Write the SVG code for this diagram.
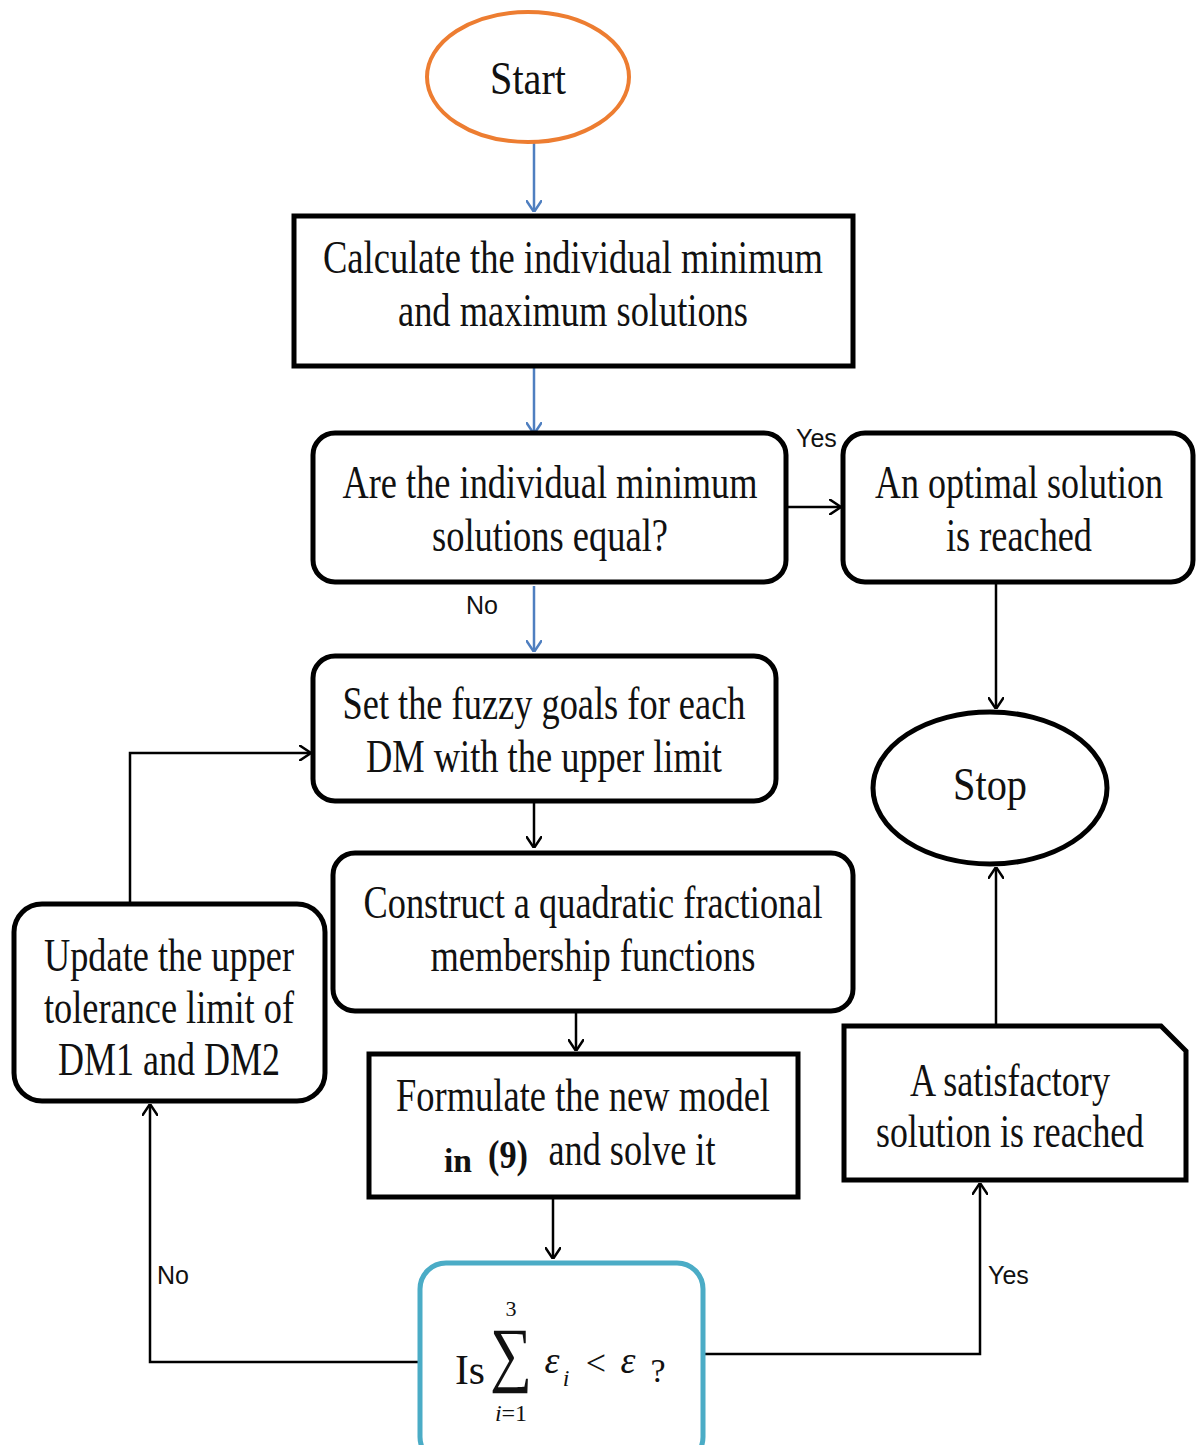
<svg xmlns="http://www.w3.org/2000/svg" width="1203" height="1445" viewBox="0 0 1203 1445">
<defs>
<style>
.t{font-family:"Liberation Serif","Times New Roman",serif;font-size:46px;fill:#111;text-anchor:middle}
.lbl{font-family:"Liberation Sans",Arial,sans-serif;font-size:25px;fill:#111}
.node{fill:#fff;stroke:#000;stroke-width:5}
.c{fill:none;stroke:#000;stroke-width:2.5}
.cb{fill:none;stroke:#4F7FC0;stroke-width:2.5}
</style>
<marker id="ah" viewBox="0 0 12 16" refX="12" refY="8" markerWidth="12" markerHeight="16" markerUnits="userSpaceOnUse" orient="auto">
<path d="M0,0 L12,8 L0,16" fill="none" stroke="#000" stroke-width="2.5"/>
</marker>
<marker id="ahb" viewBox="0 0 12 16" refX="12" refY="8" markerWidth="12" markerHeight="16" markerUnits="userSpaceOnUse" orient="auto">
<path d="M0,0 L12,8 L0,16" fill="none" stroke="#4F7FC0" stroke-width="2.5"/>
</marker>
</defs>
<rect width="1203" height="1445" fill="#fff"/>
<g id="connectors">
<path class="cb" d="M534,143 V212" marker-end="url(#ahb)"/>
<path class="cb" d="M534,367 V434" marker-end="url(#ahb)"/>
<path class="c" d="M787,507 H841" marker-end="url(#ah)"/>
<path class="c" d="M996,583 V709" marker-end="url(#ah)"/>
<path class="cb" d="M534,586 V652" marker-end="url(#ahb)"/>
<path class="c" d="M534,802 V848" marker-end="url(#ah)"/>
<path class="c" d="M576,1012 V1051" marker-end="url(#ah)"/>
<path class="c" d="M553,1199 V1259" marker-end="url(#ah)"/>
<path class="c" d="M130,903 V753 H311" marker-end="url(#ah)"/>
<path class="c" d="M419,1362 H150 V1104" marker-end="url(#ah)"/>
<path class="c" d="M703,1354 H980 V1183" marker-end="url(#ah)"/>
<path class="c" d="M996,1024 V867" marker-end="url(#ah)"/>
<text class="lbl" x="796" y="447">Yes</text>
<text class="lbl" x="466" y="614">No</text>
<text class="lbl" x="157" y="1284">No</text>
<text class="lbl" x="988" y="1284">Yes</text>
</g>
<g id="start">
<ellipse cx="528" cy="77" rx="101" ry="65" fill="#fff" stroke="#ED7D31" stroke-width="4"/>
<text class="t" x="528" y="94" textLength="76" lengthAdjust="spacingAndGlyphs">Start</text>
</g>
<g id="calc">
<rect class="node" x="294" y="216" width="559" height="150" stroke-width="6"/>
<text class="t" x="573" y="273" textLength="500" lengthAdjust="spacingAndGlyphs">Calculate the individual minimum</text>
<text class="t" x="573" y="326" textLength="350" lengthAdjust="spacingAndGlyphs">and maximum solutions</text>
</g>
<g id="equal">
<rect class="node" x="313" y="433" width="473" height="149" rx="22"/>
<text class="t" x="550" y="498" textLength="415" lengthAdjust="spacingAndGlyphs">Are the individual minimum</text>
<text class="t" x="550" y="551" textLength="236" lengthAdjust="spacingAndGlyphs">solutions equal?</text>
</g>
<g id="optimal">
<rect class="node" x="843" y="433" width="350" height="149" rx="22"/>
<text class="t" x="1019" y="498" textLength="288" lengthAdjust="spacingAndGlyphs">An optimal solution</text>
<text class="t" x="1019" y="551" textLength="146" lengthAdjust="spacingAndGlyphs">is reached</text>
</g>
<g id="stop">
<ellipse cx="990" cy="788" rx="117" ry="76" fill="#fff" stroke="#000" stroke-width="5"/>
<text class="t" x="990" y="800" textLength="74" lengthAdjust="spacingAndGlyphs">Stop</text>
</g>
<g id="fuzzy">
<rect class="node" x="313" y="656" width="463" height="145" rx="22"/>
<text class="t" x="544" y="719" textLength="403" lengthAdjust="spacingAndGlyphs">Set the fuzzy goals for each</text>
<text class="t" x="544" y="772" textLength="356" lengthAdjust="spacingAndGlyphs">DM with the upper limit</text>
</g>
<g id="construct">
<rect class="node" x="333" y="853" width="520" height="158" rx="22"/>
<text class="t" x="593" y="918" textLength="459" lengthAdjust="spacingAndGlyphs">Construct a quadratic fractional</text>
<text class="t" x="593" y="971" textLength="325" lengthAdjust="spacingAndGlyphs">membership functions</text>
</g>
<g id="formulate">
<rect class="node" x="369" y="1054" width="429" height="143" stroke-width="7"/>
<text class="t" x="583" y="1111" textLength="374" lengthAdjust="spacingAndGlyphs">Formulate the new model</text>
<text class="t" x="458" y="1172" style="font-weight:bold;font-size:34px" textLength="28" lengthAdjust="spacingAndGlyphs">in</text>
<text class="t" x="508" y="1168" style="font-weight:bold;font-size:40px" textLength="40" lengthAdjust="spacingAndGlyphs">(9)</text>
<text class="t" x="632" y="1165" textLength="167" lengthAdjust="spacingAndGlyphs">and solve it</text>
</g>
<g id="update">
<rect class="node" x="14" y="904" width="311" height="197" rx="28"/>
<text class="t" x="169" y="971" textLength="250" lengthAdjust="spacingAndGlyphs">Update the upper</text>
<text class="t" x="169" y="1023" textLength="250" lengthAdjust="spacingAndGlyphs">tolerance limit of</text>
<text class="t" x="169" y="1075" textLength="222" lengthAdjust="spacingAndGlyphs">DM1 and DM2</text>
</g>
<g id="satisfactory">
<path class="node" d="M844,1026 H1161 L1186,1051 V1180 H844 Z" stroke-width="6"/>
<text class="t" x="1010" y="1096" textLength="200" lengthAdjust="spacingAndGlyphs">A satisfactory</text>
<text class="t" x="1010" y="1147" textLength="268" lengthAdjust="spacingAndGlyphs">solution is reached</text>
</g>
<g id="decision">
<rect x="420" y="1263" width="283" height="200" rx="26" fill="#fff" stroke="#4BACC6" stroke-width="5"/>
<text class="t" x="470" y="1384" style="font-size:42px" textLength="30" lengthAdjust="spacingAndGlyphs">Is</text>
<text class="t" x="511" y="1378" style="font-size:72px" textLength="42" lengthAdjust="spacingAndGlyphs">∑</text>
<text class="t" x="511" y="1316" style="font-size:22px">3</text>
<text class="t" x="511" y="1421" style="font-size:24px"><tspan font-style="italic">i</tspan>=1</text>
<text class="t" x="552" y="1373" style="font-size:38px;font-style:italic">ε</text>
<text class="t" x="566" y="1386" style="font-size:24px;font-style:italic">i</text>
<text class="t" x="596" y="1375" style="font-size:36px">&lt;</text>
<text class="t" x="628" y="1373" style="font-size:38px;font-style:italic">ε</text>
<text class="t" x="658" y="1382" style="font-size:34px">?</text>
</g>
</svg>
